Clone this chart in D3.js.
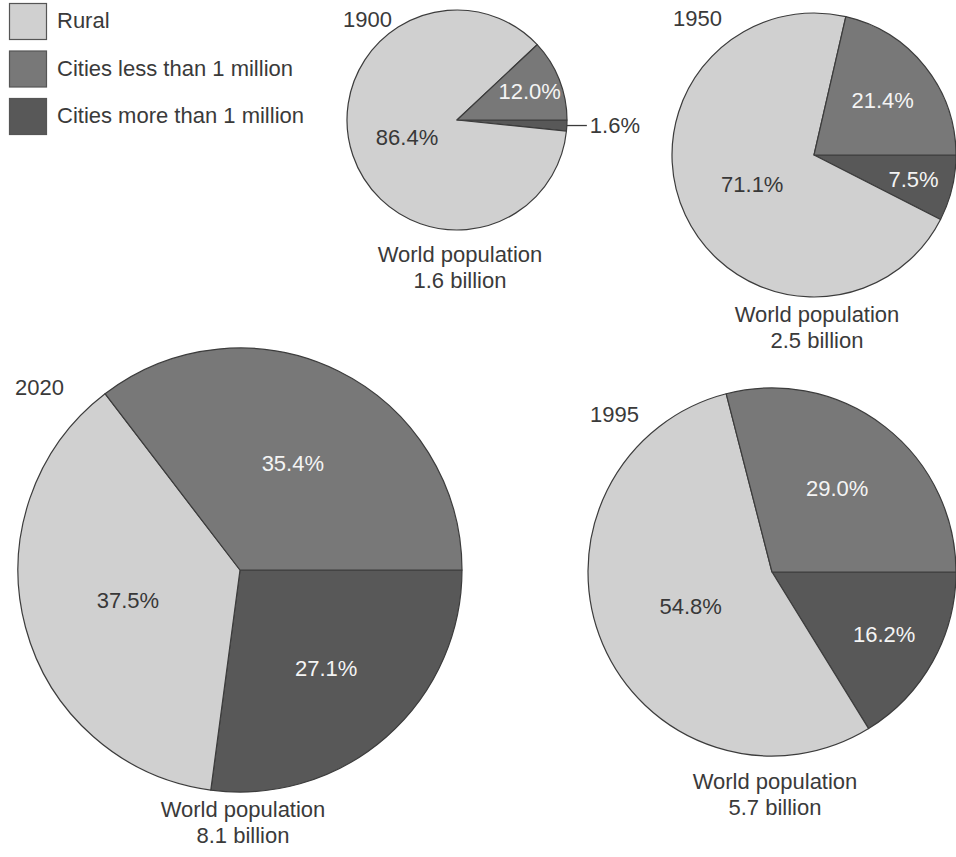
<!DOCTYPE html>
<html>
<head>
<meta charset="UTF-8">
<title>World population by settlement size</title>
<script src="https://cdn.jsdelivr.net/npm/d3@7"></script>
<style>
body { margin:0; background:#fff; }
text { font-family:"Liberation Sans", Arial, Helvetica, sans-serif; }
</style>
</head>
<body>
<svg id="chart" width="956" height="857"></svg>
<script>
//---data---
var categories = ["Rural", "Cities less than 1 million", "Cities more than 1 million"]
var years = ["1900", "1950", "1995", "2020"]
var population = [1.6, 2.5, 5.7, 8.1]
var rural = [86.4, 71.1, 54.8, 37.5]
var citiesLess = [12.0, 21.4, 29.0, 35.4]
var citiesMore = [1.6, 7.5, 16.2, 27.1]

//---layout---
var fills = ["#d0d0d0", "#787878", "#585858"]
var labelFill = ["#383838", "#f4f4f4", "#f4f4f4"]
var centers = [[457, 120], [814, 155], [772, 572], [240, 570]]
var yearPos = [[343, 27], [673, 26], [590, 422], [15, 395]]
var captionGap = [32, 25, 33, 25]
var fontSize = 22

var radius = d3.scaleLinear().domain(population).range([110, 142, 184, 222])

var svg = d3.select("#chart")

//---legend---
var legend = svg.append("g")
categories.forEach(function(c, i) {
  legend.append("rect")
    .attr("x", 9.5).attr("y", 3.5 + i * 47.5)
    .attr("width", 37).attr("height", 36)
    .attr("fill", fills[i])
    .attr("stroke", "#555").attr("stroke-width", 1.2)
  legend.append("text")
    .attr("x", 57).attr("y", 28 + i * 47.5)
    .attr("font-size", fontSize)
    .attr("fill", "#3a3a3a")
    .text(c)
})

// slices run clockwise from 3 o'clock: more, rural, less
var pie = d3.pie()
  .sort(null)
  .value(function(d) { return d.v })
  .startAngle(Math.PI / 2)
  .endAngle(Math.PI / 2 + 2 * Math.PI)

// label distance: sector centroid, but not too close to the middle
function labelRatio(d) {
  var a = (d.endAngle - d.startAngle) / 2
  var k = Math.max(2 * Math.sin(a) / (3 * a), 0.48)
  if (d.data.v < 20) k += 0.06
  return k
}

years.forEach(function(yr, k) {
  var r = radius(population[k])
  var cx = centers[k][0], cy = centers[k][1]
  var slices = [
    {cat: 2, v: citiesMore[k]},
    {cat: 0, v: rural[k]},
    {cat: 1, v: citiesLess[k]}
  ]
  var g = svg.append("g").attr("transform", "translate(" + cx + "," + cy + ")")
  var arc = d3.arc().innerRadius(0).outerRadius(r)

  var arcs = pie(slices)
  g.selectAll("path.slice")
    .data(arcs)
    .enter().append("path")
    .attr("class", "slice")
    .attr("d", arc)
    .attr("fill", function(d) { return fills[d.data.cat] })
    .attr("stroke", "#3c3c3c")
    .attr("stroke-width", 1.2)
    .attr("stroke-linejoin", "round")

  arcs.forEach(function(d) {
    var label = d.data.v.toFixed(1) + "%"
    var mid = (d.startAngle + d.endAngle) / 2
    if (d.data.v < 5) {
      // tiny slice: straight leader out to the right
      var ex = Math.sin(mid) * r, ey = -Math.cos(mid) * r
      g.append("line")
        .attr("x1", ex).attr("y1", ey)
        .attr("x2", ex + 20).attr("y2", ey)
        .attr("stroke", "#3a3a3a").attr("stroke-width", 1.3)
      g.append("text")
        .attr("x", ex + 23).attr("y", ey)
        .attr("dy", "0.35em")
        .attr("font-size", fontSize)
        .attr("fill", "#3a3a3a")
        .text(label)
      return
    }
    var lr = r * labelRatio(d)
    g.append("text")
      .attr("x", Math.sin(mid) * lr)
      .attr("y", -Math.cos(mid) * lr)
      .attr("dy", "0.35em")
      .attr("text-anchor", "middle")
      .attr("font-size", fontSize)
      .attr("fill", labelFill[d.data.cat])
      .text(label)
  })

  svg.append("text")
    .attr("x", yearPos[k][0]).attr("y", yearPos[k][1])
    .attr("font-size", fontSize)
    .attr("fill", "#3a3a3a")
    .text(yr)

  var cap = svg.append("text")
    .attr("text-anchor", "middle")
    .attr("font-size", fontSize)
    .attr("fill", "#3a3a3a")
  cap.append("tspan")
    .attr("x", cx + 3).attr("y", cy + r + captionGap[k])
    .text("World population")
  cap.append("tspan")
    .attr("x", cx + 3).attr("y", cy + r + captionGap[k] + 26)
    .text(population[k].toFixed(1) + " billion")
})
</script>
</body>
</html>
